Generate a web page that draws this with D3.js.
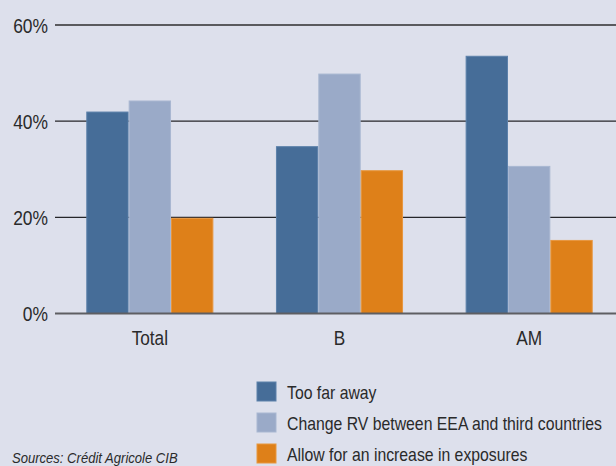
<!DOCTYPE html>
<html>
<head>
<meta charset="utf-8">
<script src="https://cdn.jsdelivr.net/npm/d3@7"></script>
<style>
  html, body { margin: 0; padding: 0; background: #dde0ec; }
  svg { display: block; }
  text { font-family: "Liberation Sans", Arial, sans-serif; fill: #2a2a2a; }
</style>
</head>
<body>
<svg id="chart" width="616" height="466"></svg>
<script>
// Survey responses by respondent group (% of respondents)
const categories = ["Total", "B", "AM"];
const seriesNames = [
  "Too far away",
  "Change RV between EEA and third countries",
  "Allow for an increase in exposures"
];
const tooFarAway = [42.0, 34.8, 53.6];
const changeRV = [44.3, 49.9, 30.7];
const allowIncrease = [19.9, 29.8, 15.3];
const yTicks = [0, 20, 40, 60];
const sourceNote = "Sources: Crédit Agricole CIB";

const fills = ["#466d98", "#9aaac8", "#de8019"];
const strokes = ["#5c81aa", "#a9b7d1", "#e8973f"];

const seriesValues = [tooFarAway, changeRV, allowIncrease];

const svg = d3.select("#chart");
const W = 616;

// Narrow the typeface horizontally to get a condensed look
function condense(sel, factor) {
  sel.each(function () {
    const len = this.getComputedTextLength();
    d3.select(this).attr("textLength", len * factor).attr("lengthAdjust", "spacingAndGlyphs");
  });
}

const y = d3.scaleLinear().domain([0, 60]).range([313.5, 25]);
const x = d3.scaleBand().domain(categories).range([55, 624]).paddingInner(0).paddingOuter(0);
const groupWidth = x.bandwidth() * 0.67;
const xs = d3.scaleBand().domain(d3.range(seriesNames.length))
  .range([(x.bandwidth() - groupWidth) / 2, (x.bandwidth() + groupWidth) / 2]);

// Gridlines
const grid = svg.append("g");
grid.selectAll("line").data(yTicks.filter(d => d !== 0)).join("line")
  .attr("x1", 55).attr("x2", W)
  .attr("y1", d => y(d)).attr("y2", d => y(d))
  .attr("stroke", d => d === 60 ? "#5a5a5e" : "#26262a")
  .attr("stroke-width", d => d === 60 ? 1.8 : 1.4);

// Y axis labels
const yAxis = d3.axisLeft(y).tickValues(yTicks).tickFormat(d => d + "%").tickSize(0).tickPadding(0);
const yg = svg.append("g").attr("transform", "translate(48,0)").call(yAxis);
yg.select(".domain").remove();
yg.selectAll("text").attr("font-size", 20).attr("fill", "#2a2a2a")
  .attr("dy", "0.36em")
  .style("font-family", "'Liberation Sans', Arial, sans-serif")
  .call(condense, 0.87);

// Bars
const rows = [];
categories.forEach((c, ci) => {
  seriesValues.forEach((vals, si) => rows.push({ cat: c, s: si, v: vals[ci] }));
});
svg.append("g").selectAll("rect").data(rows).join("rect")
  .attr("x", d => x(d.cat) + xs(d.s) + 0.5)
  .attr("width", xs.bandwidth() - 1)
  .attr("y", d => y(d.v) + 0.5)
  .attr("height", d => y(0) - y(d.v) - 0.5)
  .attr("fill", d => fills[d.s])
  .attr("stroke", d => strokes[d.s])
  .attr("stroke-width", 1);

// Baseline
svg.append("line")
  .attr("x1", 55).attr("x2", W)
  .attr("y1", y(0)).attr("y2", y(0))
  .attr("stroke", "#5e5e62").attr("stroke-width", 1.8);

// Category labels
const xAxis = d3.axisBottom(x).tickSize(0).tickPadding(0);
const xg = svg.append("g").attr("transform", "translate(0,345)").call(xAxis);
xg.select(".domain").remove();
xg.selectAll("text").attr("font-size", 20.5).attr("fill", "#2a2a2a").attr("dy", 0)
  .style("font-family", "'Liberation Sans', Arial, sans-serif")
  .call(condense, 0.84);

// Legend (labels squeezed horizontally with a scale transform)
const legend = svg.append("g").attr("transform", "translate(257,382)");
const items = legend.selectAll("g").data(seriesNames).join("g")
  .attr("transform", (d, i) => `translate(0,${i * 31})`);
items.append("rect").attr("width", 19).attr("height", 19)
  .attr("fill", (d, i) => fills[i]).attr("stroke", (d, i) => strokes[i]).attr("stroke-width", 1);
items.append("text")
  .attr("transform", "translate(30,16.5) scale(0.878,1)")
  .attr("font-size", 18).text(d => d);

// Source note
svg.append("text").attr("x", 12).attr("y", 463).attr("font-size", 15)
  .attr("font-style", "italic").text(sourceNote)
  .call(condense, 0.87);
</script>
</body>
</html>
